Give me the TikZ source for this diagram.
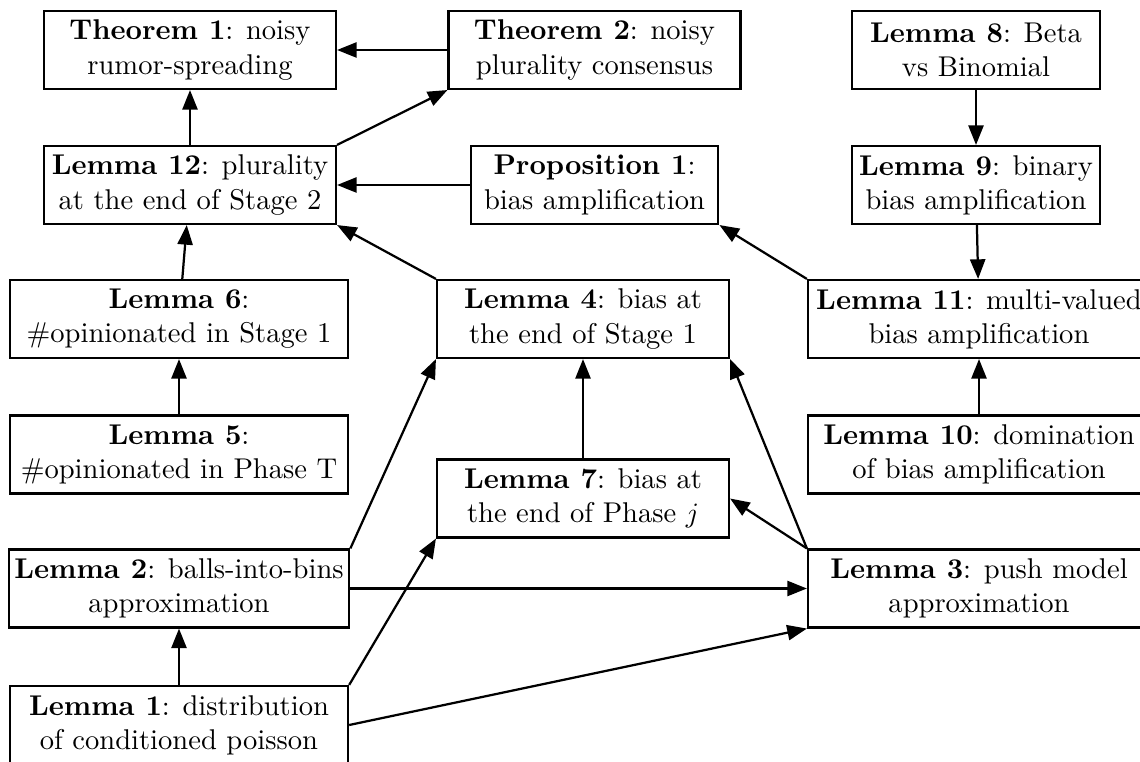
\documentclass[tikz,border=0pt]{standalone}
\usetikzlibrary{arrows.meta}

\tikzset{
  box/.style={draw, line width=0.8pt, align=center, minimum height=27.8pt, inner sep=2pt,
    font=\fontsize{10.2}{12.2}\selectfont},
  wide/.style={minimum width=120.7pt},
  wider/.style={minimum width=122.1pt},
  mid/.style={minimum width=104.2pt},
  small/.style={minimum width=88.4pt},
  dep/.style={draw, line width=0.8pt, -{Triangle[length=7pt,width=5.4pt]}}
}

\begin{document}
\begin{tikzpicture}[x=0.357pt, y=-0.357pt]

        \useasboundingbox (0,0) rectangle (1140,762);

        \begin{scope}[every node/.style={box}]
          \node[mid]   (t1)  at (190,50)    {\textbf{Theorem 1}: noisy\\rumor-spreading};
          \node[mid]   (t2)  at (594.5,50)  {\textbf{Theorem 2}: noisy\\plurality consensus};
          \node[small] (l8)  at (976,50)    {\textbf{Lemma 8}: Beta\\vs Binomial};
          \node[mid]   (l12) at (190,185)   {\textbf{Lemma 12}: plurality\\at the end of Stage 2};
          \node[small] (p1)  at (594.5,185) {\textbf{Proposition 1}:\\bias amplification};
          \node[small] (l9)  at (976,185)   {\textbf{Lemma 9}: binary\\bias amplification};
          \node[wide]  (l6)  at (179,319)   {\textbf{Lemma 6}:\\\#opinionated in Stage 1};
          \node[mid]   (l4)  at (583,319)   {\textbf{Lemma 4}: bias at\\the end of Stage 1};
          \node[wider] (l11) at (979,319)   {\textbf{Lemma 11}: multi-valued\\bias amplification};
          \node[wide]  (l5)  at (179,454.5) {\textbf{Lemma 5}:\\\#opinionated in Phase T};
          \node[mid]   (l7)  at (583,498.5) {\textbf{Lemma 7}: bias at\\the end of Phase $j$};
          \node[wider] (l10) at (979,454.5) {\textbf{Lemma 10}: domination\\of bias amplification};
          \node[wide]  (l2)  at (179,588.5) {\textbf{Lemma 2}: balls-into-bins\\approximation};
          \node[wider] (l3)  at (979,588.5) {\textbf{Lemma 3}: push model\\approximation};
          \node[wide]  (l1)  at (179,725)   {\textbf{Lemma 1}: distribution\\of conditioned poisson};
        \end{scope}

        \begin{scope}[every edge/.style={dep}]
          \path (t2)  edge (t1);
          \path (l12) edge (t1);
          \path (l12.north east) edge (t2.south west);
          \path (p1)  edge (l12);
          \path (l8)  edge (l9);
          \path (l9)  edge (l11);
          \path (l11.north west) edge (p1.south east);
          \path (l4.north west)  edge (l12.south east);
          \path (l6)  edge (l12);
          \path (l5)  edge (l6);
          \path (l10) edge (l11);
          \path (l7)  edge (l4);
          \path (l2.north east) edge (l4.south west);
          \path (l3.north west) edge (l4.south east);
          \path (l3.north west) edge (l7.east);
          \path (l2)  edge (l3);
          \path (l1)  edge (l2);
          \path (l1.north east) edge (l7.south west);
          \path (l1.east) edge (l3.south west);
        \end{scope}

      \end{tikzpicture}
\end{document}
